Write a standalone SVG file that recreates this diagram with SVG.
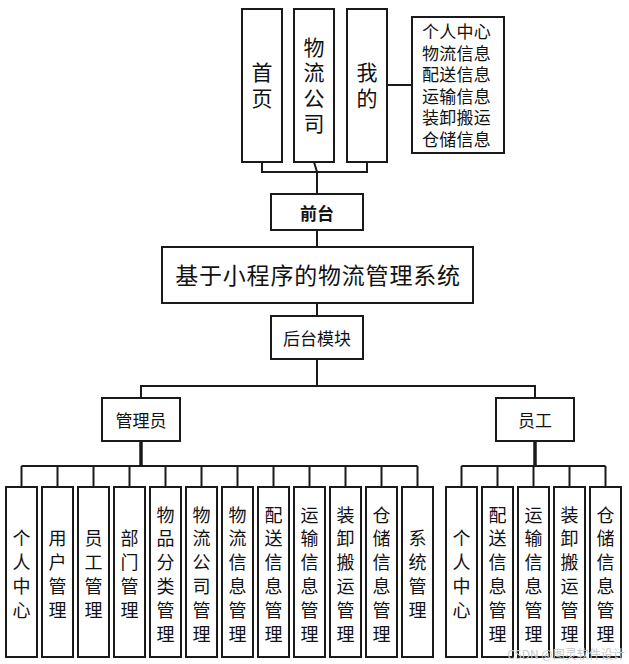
<svg xmlns="http://www.w3.org/2000/svg" width="629" height="664" viewBox="0 0 629 664">
<style>
.box{fill:#fff;stroke:#1a1a1a;stroke-width:2}
.ln{fill:none;stroke:#1a1a1a;stroke-width:2}
.thk{fill:none;stroke:#1a1a1a;stroke-width:3.5}
text{font-family:"Noto Sans CJK SC","Liberation Sans",sans-serif;fill:#111;text-anchor:middle;dominant-baseline:central}
.t21{font-size:21px}
.vt{writing-mode:vertical-rl;letter-spacing:4.5px}
.t18{font-size:18px}
.t17{font-size:17px}
.lst{font-family:"Liberation Sans","Noto Sans CJK SC",sans-serif;font-size:17px;letter-spacing:0.3px}
.t24{font-size:23px;letter-spacing:0.8px}
.wm{font-size:12px;fill:#c8c8c8}
</style>
<rect width="629" height="664" fill="#fff"/>
<g id="connectors">
<polyline class="ln" points="262,162 262,172 367,172 367,162"/>
<polyline class="ln" points="314,162 317,172 317,194"/>
<line class="ln" x1="387" y1="85" x2="412" y2="85"/>
<line class="ln" x1="317" y1="230" x2="317" y2="247"/>
<line class="ln" x1="317" y1="303" x2="317" y2="316"/>
<line class="ln" x1="317" y1="359" x2="317" y2="386"/>
<polyline class="ln" points="141,398 141,386 535,386 535,398"/>
<line class="thk" x1="141" y1="441" x2="141" y2="466"/>
<line class="thk" x1="535" y1="441" x2="535" y2="466"/>
<line class="ln" x1="21.5" y1="466" x2="417.5" y2="466"/>
<line class="ln" x1="461.5" y1="466" x2="605.5" y2="466"/>
<path class="ln" d="M21.5 466V487M57.5 466V487M93.5 466V487M129.5 466V487M165.5 466V487M201.5 466V487M237.5 466V487M273.5 466V487M309.5 466V487M345.5 466V487M381.5 466V487M417.5 466V487"/>
<path class="ln" d="M461.5 466V487M497.5 466V487M533.5 466V487M569.5 466V487M605.5 466V487"/>
</g>
<g id="n-home"><rect class="box" x="242" y="9" width="40" height="153"/><text class="t21 vt" x="262" y="87.5">首页</text></g>
<g id="n-company"><rect class="box" x="294" y="9" width="40" height="153"/><text class="t21 vt" x="314" y="87.5">物流公司</text></g>
<g id="n-mine"><rect class="box" x="347" y="9" width="40" height="153"/><text class="t21 vt" x="367" y="87.5">我的</text></g>
<g id="n-minelist"><rect class="box" x="412" y="17" width="92" height="136"/><text class="lst"><tspan x="456.5" y="32">个人中心</tspan><tspan x="456.5" y="53.5">物流信息</tspan><tspan x="456.5" y="75">配送信息</tspan><tspan x="456.5" y="96.5">运输信息</tspan><tspan x="456.5" y="118">装卸搬运</tspan><tspan x="456.5" y="139.5">仓储信息</tspan></text></g>
<g id="n-front"><rect class="box" x="271" y="194" width="92" height="36"/><text class="t17" x="317" y="212" font-weight="bold">前台</text></g>
<g id="n-system"><rect class="box" x="162" y="247" width="311" height="56"/><text class="t24" x="318" y="274">基于小程序的物流管理系统</text></g>
<g id="n-back"><rect class="box" x="271" y="316" width="92" height="43"/><text class="t17" x="317" y="337">后台模块</text></g>
<g id="n-admin"><rect class="box" x="102" y="398" width="78" height="43"/><text class="t17" x="141" y="419">管理员</text></g>
<g id="n-staff"><rect class="box" x="496" y="398" width="78" height="43"/><text class="t17" x="535" y="419">员工</text></g>
<g id="admin-items">
<g id="a1"><rect class="box" x="6" y="487" width="31" height="170"/><text class="t18"><tspan x="21.5" y="537.3">个</tspan><tspan x="21.5" y="561.1">人</tspan><tspan x="21.5" y="584.9">中</tspan><tspan x="21.5" y="608.7">心</tspan></text></g>
<g id="a2"><rect class="box" x="42" y="487" width="31" height="170"/><text class="t18"><tspan x="57.5" y="537.3">用</tspan><tspan x="57.5" y="561.1">户</tspan><tspan x="57.5" y="584.9">管</tspan><tspan x="57.5" y="608.7">理</tspan></text></g>
<g id="a3"><rect class="box" x="78" y="487" width="31" height="170"/><text class="t18"><tspan x="93.5" y="537.3">员</tspan><tspan x="93.5" y="561.1">工</tspan><tspan x="93.5" y="584.9">管</tspan><tspan x="93.5" y="608.7">理</tspan></text></g>
<g id="a4"><rect class="box" x="114" y="487" width="31" height="170"/><text class="t18"><tspan x="129.5" y="537.3">部</tspan><tspan x="129.5" y="561.1">门</tspan><tspan x="129.5" y="584.9">管</tspan><tspan x="129.5" y="608.7">理</tspan></text></g>
<g id="a5"><rect class="box" x="150" y="487" width="31" height="170"/><text class="t18"><tspan x="165.5" y="513.5">物</tspan><tspan x="165.5" y="537.3">品</tspan><tspan x="165.5" y="561.1">分</tspan><tspan x="165.5" y="584.9">类</tspan><tspan x="165.5" y="608.7">管</tspan><tspan x="165.5" y="632.5">理</tspan></text></g>
<g id="a6"><rect class="box" x="186" y="487" width="31" height="170"/><text class="t18"><tspan x="201.5" y="513.5">物</tspan><tspan x="201.5" y="537.3">流</tspan><tspan x="201.5" y="561.1">公</tspan><tspan x="201.5" y="584.9">司</tspan><tspan x="201.5" y="608.7">管</tspan><tspan x="201.5" y="632.5">理</tspan></text></g>
<g id="a7"><rect class="box" x="222" y="487" width="31" height="170"/><text class="t18"><tspan x="237.5" y="513.5">物</tspan><tspan x="237.5" y="537.3">流</tspan><tspan x="237.5" y="561.1">信</tspan><tspan x="237.5" y="584.9">息</tspan><tspan x="237.5" y="608.7">管</tspan><tspan x="237.5" y="632.5">理</tspan></text></g>
<g id="a8"><rect class="box" x="258" y="487" width="31" height="170"/><text class="t18"><tspan x="273.5" y="513.5">配</tspan><tspan x="273.5" y="537.3">送</tspan><tspan x="273.5" y="561.1">信</tspan><tspan x="273.5" y="584.9">息</tspan><tspan x="273.5" y="608.7">管</tspan><tspan x="273.5" y="632.5">理</tspan></text></g>
<g id="a9"><rect class="box" x="294" y="487" width="31" height="170"/><text class="t18"><tspan x="309.5" y="513.5">运</tspan><tspan x="309.5" y="537.3">输</tspan><tspan x="309.5" y="561.1">信</tspan><tspan x="309.5" y="584.9">息</tspan><tspan x="309.5" y="608.7">管</tspan><tspan x="309.5" y="632.5">理</tspan></text></g>
<g id="a10"><rect class="box" x="330" y="487" width="31" height="170"/><text class="t18"><tspan x="345.5" y="513.5">装</tspan><tspan x="345.5" y="537.3">卸</tspan><tspan x="345.5" y="561.1">搬</tspan><tspan x="345.5" y="584.9">运</tspan><tspan x="345.5" y="608.7">管</tspan><tspan x="345.5" y="632.5">理</tspan></text></g>
<g id="a11"><rect class="box" x="366" y="487" width="31" height="170"/><text class="t18"><tspan x="381.5" y="513.5">仓</tspan><tspan x="381.5" y="537.3">储</tspan><tspan x="381.5" y="561.1">信</tspan><tspan x="381.5" y="584.9">息</tspan><tspan x="381.5" y="608.7">管</tspan><tspan x="381.5" y="632.5">理</tspan></text></g>
<g id="a12"><rect class="box" x="402" y="487" width="31" height="170"/><text class="t18"><tspan x="417.5" y="537.3">系</tspan><tspan x="417.5" y="561.1">统</tspan><tspan x="417.5" y="584.9">管</tspan><tspan x="417.5" y="608.7">理</tspan></text></g>
</g>
<g id="staff-items">
<g id="s1"><rect class="box" x="446" y="487" width="31" height="170"/><text class="t18"><tspan x="461.5" y="537.3">个</tspan><tspan x="461.5" y="561.1">人</tspan><tspan x="461.5" y="584.9">中</tspan><tspan x="461.5" y="608.7">心</tspan></text></g>
<g id="s2"><rect class="box" x="482" y="487" width="31" height="170"/><text class="t18"><tspan x="497.5" y="513.5">配</tspan><tspan x="497.5" y="537.3">送</tspan><tspan x="497.5" y="561.1">信</tspan><tspan x="497.5" y="584.9">息</tspan><tspan x="497.5" y="608.7">管</tspan><tspan x="497.5" y="632.5">理</tspan></text></g>
<g id="s3"><rect class="box" x="518" y="487" width="31" height="170"/><text class="t18"><tspan x="533.5" y="513.5">运</tspan><tspan x="533.5" y="537.3">输</tspan><tspan x="533.5" y="561.1">信</tspan><tspan x="533.5" y="584.9">息</tspan><tspan x="533.5" y="608.7">管</tspan><tspan x="533.5" y="632.5">理</tspan></text></g>
<g id="s4"><rect class="box" x="554" y="487" width="31" height="170"/><text class="t18"><tspan x="569.5" y="513.5">装</tspan><tspan x="569.5" y="537.3">卸</tspan><tspan x="569.5" y="561.1">搬</tspan><tspan x="569.5" y="584.9">运</tspan><tspan x="569.5" y="608.7">管</tspan><tspan x="569.5" y="632.5">理</tspan></text></g>
<g id="s5"><rect class="box" x="590" y="487" width="31" height="170"/><text class="t18"><tspan x="605.5" y="513.5">仓</tspan><tspan x="605.5" y="537.3">储</tspan><tspan x="605.5" y="561.1">信</tspan><tspan x="605.5" y="584.9">息</tspan><tspan x="605.5" y="608.7">管</tspan><tspan x="605.5" y="632.5">理</tspan></text></g>
</g>
<text class="wm" x="566" y="653">CSDN @图灵软件设计</text>
</svg>
